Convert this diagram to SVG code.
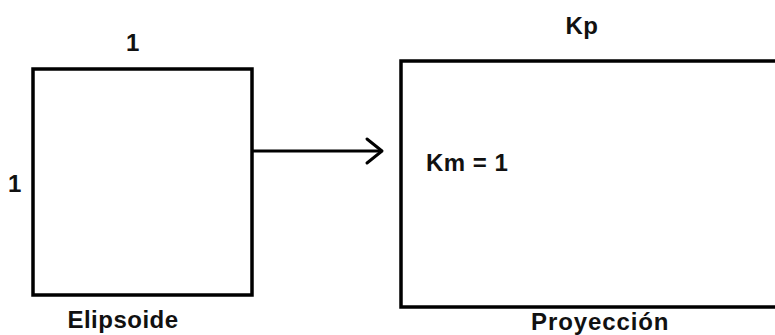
<svg xmlns="http://www.w3.org/2000/svg" width="775" height="335" viewBox="0 0 775 335">
  <style>
    .box { fill: #ffffff; stroke: #000000; stroke-width: 3.5; }
    .lbl { font-family: "Liberation Sans", Arial, sans-serif; font-weight: bold; font-size: 24px; letter-spacing: 0.5px; fill: #111111; }
    .mid { text-anchor: middle; }
    .conn { fill: none; stroke: #000000; stroke-width: 3; stroke-linecap: round; stroke-linejoin: round; }
  </style>
  <rect width="775" height="335" fill="#ffffff"/>

  <g id="elipsoide">
    <rect class="box" x="33" y="69" width="219" height="226"/>
    <text class="lbl mid" x="133" y="51">1</text>
    <text class="lbl mid" x="15" y="192">1</text>
    <text class="lbl mid" x="123" y="328">Elipsoide</text>
  </g>

  <g id="proyeccion">
    <rect class="box" x="401" y="61" width="390" height="246"/>
    <text class="lbl mid" x="582" y="34">Kp</text>
    <text class="lbl" x="426" y="171">Km = 1</text>
    <text class="lbl mid" x="600" y="330" textLength="138" lengthAdjust="spacing">Proyección</text>
  </g>

  <g id="connectors">
    <line class="conn" x1="253" y1="151" x2="381" y2="151"/>
    <polyline class="conn" points="367,139 382,151 367,163"/>
  </g>
</svg>
